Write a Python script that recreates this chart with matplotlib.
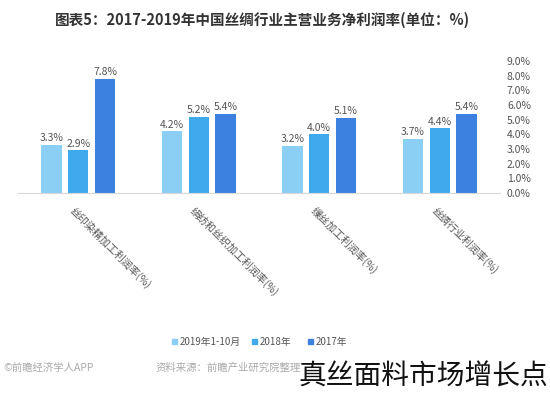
import matplotlib
matplotlib.use("Agg")
import matplotlib.pyplot as plt
from matplotlib.patches import Rectangle

plt.rcParams['font.family'] = ['Noto Sans CJK SC', 'DejaVu Sans']

# Data (layout as shown in the reference, which is horizontally mirrored)
categories = ["丝印染精加工利润率(%)", "绢纺和丝织加工利润率(%)", "缫丝加工利润率(%)", "丝绸行业利润率(%)"]
series_names = ["2019年1-10月", "2018年", "2017年"]
v_2019 = [3.3, 4.2, 3.2, 3.7]
v_2018 = [2.9, 5.2, 4.0, 4.4]
v_2017 = [7.8, 5.4, 5.1, 5.4]
yticks = [0, 1, 2, 3, 4, 5, 6, 7, 8, 9]
title = "图表5：2017-2019年中国丝绸行业主营业务净利润率(单位：%)"
colors = ["#8ccff5", "#3fa9ee", "#3c80e0"]

W, H = 550, 393
fig = plt.figure(figsize=(W / 100, H / 100), dpi=100)
ax = fig.add_axes([18 / W, (H - 193) / H, (500 - 18) / W, (193 - 61) / H])

series = [v_2019, v_2018, v_2017]
offsets = [-0.222, 0.0, 0.222]
bw = 0.17
x = list(range(len(categories)))
for s, off, c in zip(series, offsets, colors):
    xs = [i + off for i in x]
    ax.bar(xs, s, width=bw, color=c, zorder=2)
    for xi, v in zip(xs, s):
        ax.text(xi, v + 0.12, f"{v:.1f}%", ha="center", va="bottom",
                fontsize=7.5, color="#555555")

ax.set_xlim(-0.5, 3.5)
ax.set_ylim(0, 9)
ax.yaxis.tick_right()
ax.set_yticks(yticks)
ax.set_yticklabels([f"{t:.1f}%" for t in yticks], fontsize=7.5, color="#555555")
ax.tick_params(axis="y", length=0, pad=5)
ax.set_xticks(x)
ax.set_xticklabels([])
ax.tick_params(axis="x", length=0)
for sp in ["top", "left", "right"]:
    ax.spines[sp].set_visible(False)
ax.spines["bottom"].set_color("#d9d9d9")

# rotated category labels
for i, cat in enumerate(categories):
    ax.annotate(cat, xy=(i, 0), xycoords=("data", "axes fraction"),
                xytext=(-2, -9), textcoords="offset points",
                rotation=-45, rotation_mode="anchor", ha="left", va="top",
                fontsize=7.5, color="#555555")

fig.text(262 / W, 1 - 20 / H, title, ha="center", va="center",
         fontsize=10.5, fontweight="bold", color="#333333")

# legend
lx = [172, 252, 308]
for name, c, px in zip(series_names, colors, lx):
    fig.patches.append(Rectangle((px / W, 1 - 344 / H), 5 / W, 5 / H,
                                 transform=fig.transFigure, color=c))
    fig.text((px + 8) / W, 1 - 341.5 / H, name, ha="left", va="center",
             fontsize=7, color="#555555")

fig.text(3 / W, 1 - 368 / H, "©前瞻经济学人APP", ha="left", va="center",
         fontsize=7.5, color="#aaaaaa")
fig.text(301 / W, 1 - 368 / H, "资料来源：前瞻产业研究院整理", ha="right",
         va="center", fontsize=7.5, color="#aaaaaa")
fig.text(548 / W, 1 - 377 / H, "真丝面料市场增长点", ha="right", va="center",
         fontsize=20, color="#111111")

fig.savefig("out.png", dpi=100)
